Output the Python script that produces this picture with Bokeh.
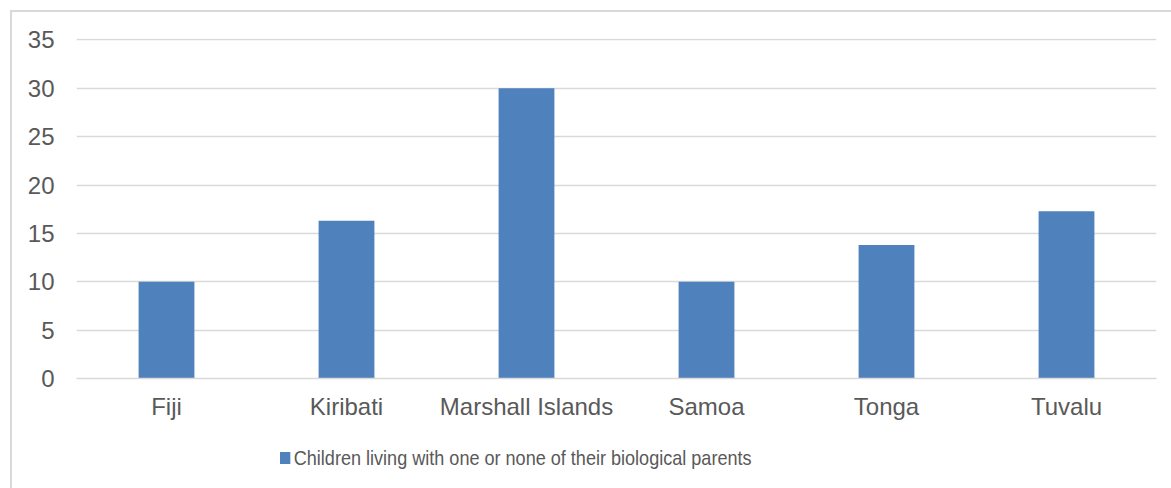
from bokeh.plotting import figure
from bokeh.models import FactorRange, Range1d, ColumnDataSource, Div
from bokeh.layouts import column
from bokeh.embed import file_html
from bokeh.resources import INLINE

categories = ["Fiji", "Kiribati", "Marshall Islands", "Samoa", "Tonga", "Tuvalu"]
values = [10.0, 16.3, 30.0, 10.0, 13.8, 17.3]
series_name = "Children living with one or none of their biological parents"
y_ticks = [0, 5, 10, 15, 20, 25, 30, 35]

FONT = "Liberation Sans"
TXT = "#595959"
GRID = "#d9d9d9"
BAR = "#4F81BD"

src = ColumnDataSource(dict(cat=categories, val=values))

p = figure(
    x_range=FactorRange(*categories, range_padding=0),
    y_range=Range1d(0, 35.15),
    width=1159, height=420,
    output_backend="svg", toolbar_location=None,
    min_border_left=64, min_border_right=15, min_border_top=26, min_border_bottom=54,
)
p.outline_line_color = None
p.background_fill_color = "white"
p.border_fill_color = "white"

r = p.vbar(x="cat", top="val", width=0.31, source=src, fill_color=BAR, line_color=None)

p.xgrid.grid_line_color = None
p.ygrid.grid_line_color = GRID
p.ygrid.grid_line_width = 1.5
p.yaxis.ticker = y_ticks

p.yaxis.axis_line_color = None
p.yaxis.major_tick_line_color = None
p.yaxis.minor_tick_line_color = None
p.yaxis.major_label_standoff = 16
p.yaxis.major_label_text_font = FONT
p.yaxis.major_label_text_font_size = "24px"
p.yaxis.major_label_text_color = TXT

p.xaxis.axis_line_color = GRID
p.xaxis.axis_line_width = 1.5
p.xaxis.major_tick_line_color = None
p.xaxis.minor_tick_line_color = None
p.xaxis.major_label_standoff = 8
p.xaxis.major_label_text_font = FONT
p.xaxis.major_label_text_font_size = "24px"
p.xaxis.major_label_text_color = TXT

legend_html = (
    f'<div style="display:flex;align-items:center;margin-left:268px;margin-top:14px;'
    f'font-family:\'{FONT}\';font-size:21px;line-height:24px;color:{TXT};white-space:nowrap;'
    f'transform:scaleX(0.86);transform-origin:0 50%">'
    f'<span style="display:inline-block;width:12px;height:12px;background:{BAR};margin-right:4px"></span>'
    f'{series_name}</div>'
)
div = Div(text=legend_html, width=1159, height=56, margin=0)

lay = column(p, div, spacing=0,
             styles={"border-left": f"2px solid {GRID}", "border-top": f"2px solid {GRID}",
                     "margin-left": "10px", "margin-top": "10px"})

with open("out.html", "w") as f:
    f.write(file_html(lay, INLINE))
